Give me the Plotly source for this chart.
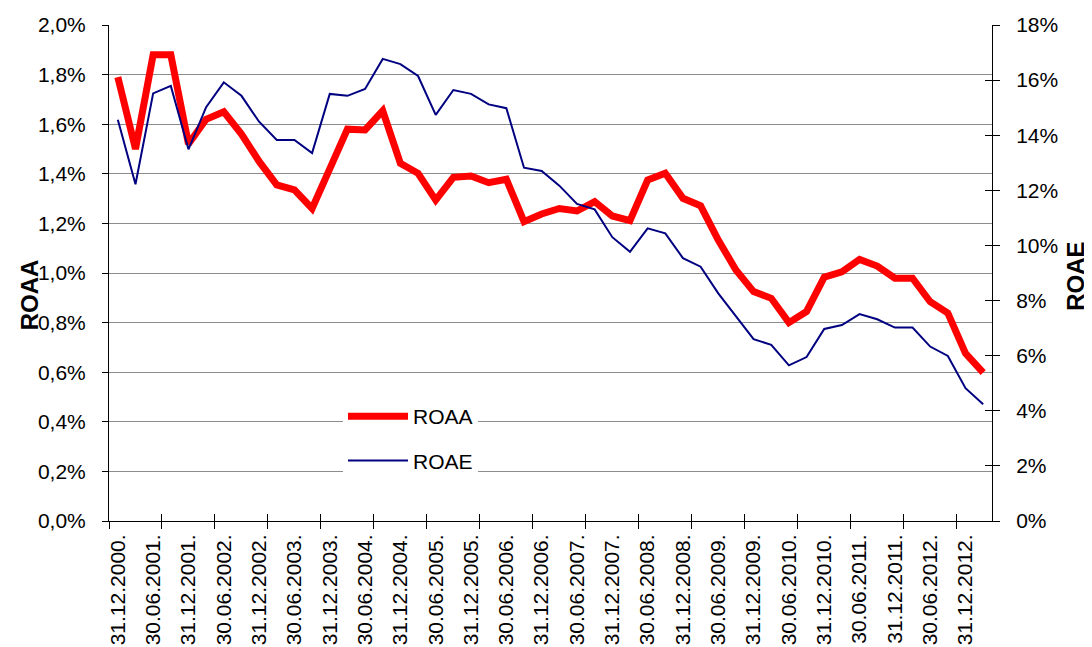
import plotly.graph_objects as go

quarters = [
    "31.12.2000.", "31.03.2001.", "30.06.2001.", "30.09.2001.",
    "31.12.2001.", "31.03.2002.", "30.06.2002.", "30.09.2002.",
    "31.12.2002.", "31.03.2003.", "30.06.2003.", "30.09.2003.",
    "31.12.2003.", "31.03.2004.", "30.06.2004.", "30.09.2004.",
    "31.12.2004.", "31.03.2005.", "30.06.2005.", "30.09.2005.",
    "31.12.2005.", "31.03.2006.", "30.06.2006.", "30.09.2006.",
    "31.12.2006.", "31.03.2007.", "30.06.2007.", "30.09.2007.",
    "31.12.2007.", "31.03.2008.", "30.06.2008.", "30.09.2008.",
    "31.12.2008.", "31.03.2009.", "30.06.2009.", "30.09.2009.",
    "31.12.2009.", "31.03.2010.", "30.06.2010.", "30.09.2010.",
    "31.12.2010.", "31.03.2011.", "30.06.2011.", "30.09.2011.",
    "31.12.2011.", "31.03.2012.", "30.06.2012.", "30.09.2012.",
    "31.12.2012.", "31.03.2013.",
]

# ROAA, %
roaa = [
    1.79, 1.50, 1.88, 1.88, 1.52, 1.62, 1.65, 1.56, 1.45, 1.355,
    1.335, 1.26, 1.42, 1.58, 1.577, 1.654, 1.442, 1.402, 1.294, 1.386,
    1.391, 1.364, 1.378, 1.207, 1.238, 1.26, 1.25, 1.288, 1.23, 1.211,
    1.375, 1.402, 1.301, 1.271, 1.133, 1.012, 0.925, 0.898, 0.80, 0.845,
    0.983, 1.005, 1.055, 1.028, 0.979, 0.979, 0.884, 0.838, 0.676, 0.598,
]

# ROAE, %
roae = [
    14.56, 12.22, 15.52, 15.79, 13.49, 15.02, 15.92, 15.43, 14.49, 13.83,
    13.83, 13.35, 15.50, 15.43, 15.68, 16.77, 16.58, 16.15, 14.74, 15.64,
    15.50, 15.12, 14.98, 12.82, 12.70, 12.17, 11.51, 11.31, 10.30, 9.77,
    10.62, 10.44, 9.54, 9.23, 8.26, 7.42, 6.60, 6.39, 5.65, 5.95,
    6.97, 7.11, 7.51, 7.32, 7.02, 7.02, 6.33, 5.99, 4.82, 4.24,
]

FONT = "Liberation Sans, Arial, sans-serif"
idx = list(range(len(quarters)))
label_idx = idx[::2]
tick_bounds = [i - 0.5 for i in idx[::3]]
xrange = [-0.5, len(quarters) - 0.5]

fig = go.Figure()
fig.add_trace(go.Scatter(
    x=idx, y=roaa, name="ROAA", mode="lines", legendgroup="a",
    line=dict(color="#ff0000", width=7),
))
fig.add_trace(go.Scatter(
    x=idx, y=roae, name="ROAE", mode="lines", legendgroup="b", yaxis="y2",
    line=dict(color="#000080", width=2),
))
# invisible helpers so the tick-only overlay axes get drawn
for xa, ya in [("x2", "y"), ("x3", "y"), ("x", "y3")]:
    fig.add_trace(go.Scatter(
        x=idx, y=roae if ya == "y3" else roaa, xaxis=xa, yaxis=ya,
        mode="lines", opacity=0, showlegend=False, hoverinfo="skip",
    ))

# the page body adds an 8px margin, so the figure is 8px smaller
fig.update_layout(
    width=1084, height=639,
    margin=dict(l=101, r=100, t=17, b=126, autoexpand=False),
    paper_bgcolor="white", plot_bgcolor="white",
    separators=",.",
    font=dict(family=FONT, size=21, color="black"),
    showlegend=True,
    legend=dict(
        x=0.265, y=0.252, xanchor="left", yanchor="top",
        bgcolor="white", borderwidth=0, tracegroupgap=14,
        itemwidth=60, font=dict(size=21),
    ),
    xaxis=dict(
        range=xrange, tickmode="array", tickvals=label_idx,
        ticktext=quarters[::2], tickangle=-90, ticks="",
        showline=True, linecolor="black", linewidth=1,
        showgrid=False, zeroline=False, ticklabelstandoff=4,
        automargin=False,
    ),
    xaxis2=dict(
        range=xrange, overlaying="x", anchor="y", side="bottom",
        tickmode="array", tickvals=tick_bounds, ticks="outside",
        ticklen=7, tickcolor="black", showticklabels=False,
        showgrid=False, zeroline=False, showline=False, automargin=False,
    ),
    xaxis3=dict(
        range=xrange, overlaying="x", anchor="y", side="bottom",
        tickmode="array", tickvals=tick_bounds, ticks="inside",
        ticklen=7, tickcolor="black", showticklabels=False,
        showgrid=False, zeroline=False, showline=False, automargin=False,
    ),
    yaxis=dict(
        range=[0, 2.0], dtick=0.2, tickformat=".1f", ticksuffix="%",
        ticks="outside", ticklen=6, tickcolor="black",
        showline=True, linecolor="black", linewidth=1,
        showgrid=True, gridcolor="#8c8c8c", gridwidth=1,
        zeroline=False, ticklabelstandoff=12, automargin=False,
    ),
    yaxis2=dict(
        range=[0, 18], dtick=2, tickformat=".0f", ticksuffix="%",
        overlaying="y", side="right", anchor="x",
        ticks="outside", ticklen=7, tickcolor="black",
        showline=True, linecolor="black", linewidth=1,
        showgrid=False, zeroline=False, ticklabelstandoff=12,
        automargin=False,
    ),
    yaxis3=dict(
        range=[0, 18], dtick=2, overlaying="y", side="right", anchor="x",
        ticks="inside", ticklen=7, tickcolor="black",
        showticklabels=False, showgrid=False, zeroline=False,
        showline=False, automargin=False,
    ),
    annotations=[
        dict(text="<b>ROAA</b>", xref="paper", yref="paper",
             x=-0.090, y=0.456, xanchor="center", yanchor="middle",
             textangle=-90, showarrow=False,
             font=dict(size=24, family=FONT)),
        dict(text="<b>ROAE</b>", xref="paper", yref="paper",
             x=1.095, y=0.494, xanchor="center", yanchor="middle",
             textangle=-90, showarrow=False,
             font=dict(size=24, family=FONT)),
    ],
)

fig.write_html("out.html")
